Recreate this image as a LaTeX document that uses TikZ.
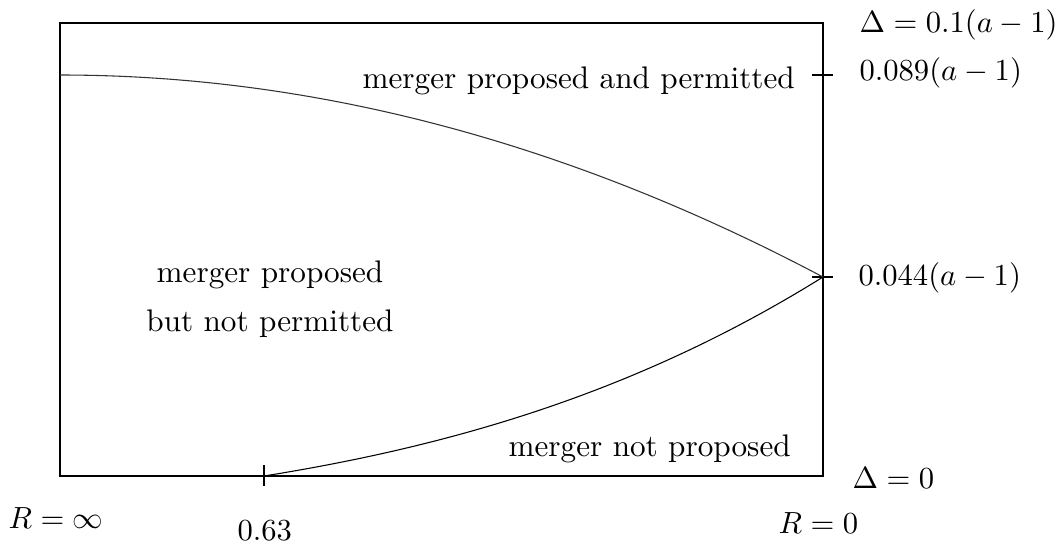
\documentclass[tikz,border=0pt]{standalone}
\begin{document}
\begin{tikzpicture}[x=0.01149cm,y=-0.01149cm,
  lbl/.style={inner sep=0pt,anchor=base west},
  region/.style={inner sep=0pt,font=\fontsize{10.2pt}{12pt}\selectfont},
  frame/.style={line width=0.5pt},
  curve/.style={line width=0.35pt}]
\useasboundingbox (0,0) rectangle (1064,547);
% frame corners
\coordinate (tl) at (60,23);
\coordinate (br) at (823,476);
\draw[frame] (tl) rectangle (br);
% ticks
\coordinate (t1a) at (812,75);  \coordinate (t1b) at (833,75);
\coordinate (t2a) at (812,277); \coordinate (t2b) at (833,277);
\coordinate (t3a) at (264,465); \coordinate (t3b) at (264,486);
\draw[frame] (t1a) -- (t1b);
\draw[frame] (t2a) -- (t2b);
\draw[frame] (t3a) -- (t3b);
% curves
\draw[curve,black!80] plot[domain=0:1,samples=80] ({60+763*\x},{75+202*\x*\x});
\draw[curve] plot[domain=0:1,samples=80] ({264+559*\x},{476-199*(0.45*\x+0.35*\x*\x+0.2*\x*\x*\x)});
% region labels
\node[region,anchor=base west] (r1) at (362,88) {merger proposed and permitted};
\node[region,anchor=base] (r2a) at (270,282) {merger proposed};
\node[region,anchor=base] (r2b) at (270,331) {but not permitted};
\node[region,anchor=base west] (r3) at (508,456) {merger not proposed};
% axis labels
\node[lbl] (d1) at (859,32) {$\Delta=0.1(a-1)$};
\node[lbl] (d2) at (859,80) {$0.089(a-1)$};
\node[lbl] (d3) at (858,285) {$0.044(a-1)$};
\node[lbl] (d0) at (852,488) {$\Delta=0$};
\node[lbl] (rinf) at (8,528) {$R=\infty$};
\node[lbl] (r63) at (237,540) {$0.63$};
\node[lbl] (r0) at (778,533) {$R=0$};
\end{tikzpicture}
\end{document}
